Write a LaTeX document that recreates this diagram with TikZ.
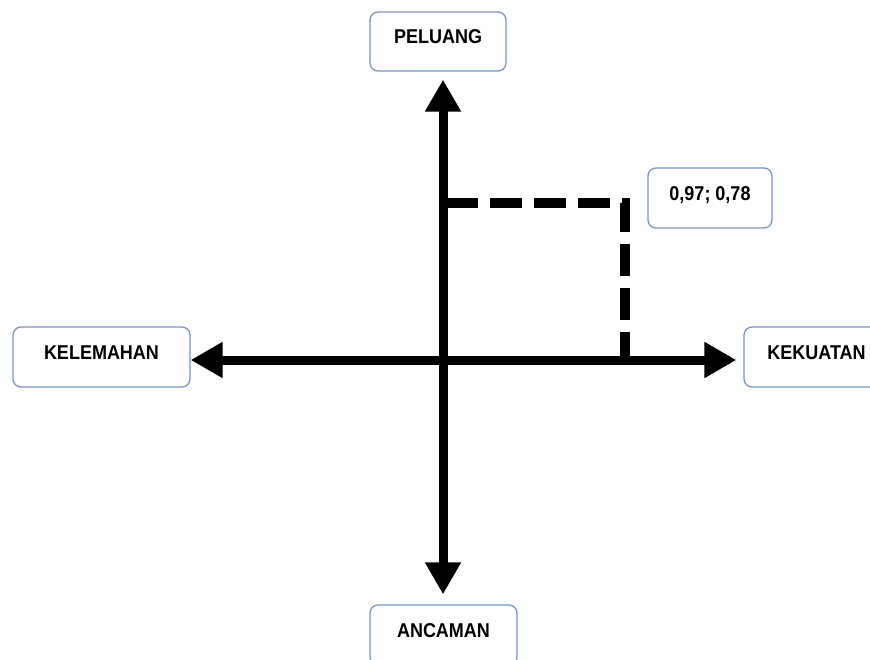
\documentclass[tikz,border=0pt]{standalone}
\usepackage{fontspec}
\usetikzlibrary{arrows.meta}
\newfontfamily\boxfont[FakeStretch=0.9]{Liberation Sans}
\definecolor{boxline}{HTML}{7895C8}
\begin{document}
\begin{tikzpicture}
[x=1pt, y=-1pt,
axis/.style={line width=9pt, {Triangle[length=32pt,width=34pt]}-{Triangle[length=32pt,width=34pt]}},
guide/.style={line width=10pt, dash pattern=on 32pt off 12pt}
]
\tikzset{every node/.style={draw=boxline, line width=1.3pt, rounded corners=8pt, fill=white,
                            font=\boxfont\bfseries\fontsize{20}{22}\selectfont,
                            text height=14.5pt, text depth=10pt, minimum height=60pt}}
%\tikzset{every node/.style={shape=rectangle,
%                            minimum width=3cm}}
\clip (0,0) rectangle (870,660);
\coordinate (o) at (443,360);
\coordinate (p) at (625,203);
\node[minimum width=136pt, minimum height=59pt] (peluang) at (438,41.5) {PELUANG};
\node[minimum width=177pt] (kelemahan) at (101.5,357) {KELEMAHAN};
\node[minimum width=145pt] (kekuatan) at (816.5,357) {KEKUATAN};
\node[minimum width=147pt] (ancaman) at (443.5,635) {ANCAMAN};
\node[minimum width=124pt] (nilai) at (710,198) {0,97;\hspace{5pt}0,78};
% sumbu
\draw[axis] (o -| kelemahan.east) -- ([xshift=-7pt]o -| kekuatan.west);
\draw[axis, shorten <=10pt, shorten >=8pt] (o |- ancaman.north) -- (o |- peluang.south);
% garis titik
\draw[guide] ([xshift=3pt]o |- p) -- (p) -- (p |- o);
\end{tikzpicture}
\end{document}
